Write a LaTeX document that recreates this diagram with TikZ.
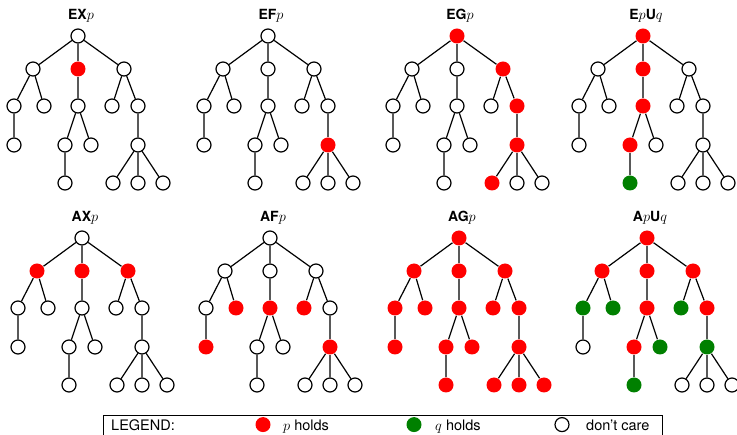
\documentclass[tikz,border=0pt]{standalone}
\usepackage{fontspec}
\setmainfont{TeX Gyre Heros}
\usetikzlibrary{positioning,calc}

\definecolor{pcol}{RGB}{255,0,0}
\definecolor{qcol}{RGB}{0,128,0}

% default look of every tree node (overridden per scope)
\tikzset{
  n-r/.style={}, n-a/.style={}, n-b/.style={}, n-c/.style={},
  n-a1/.style={}, n-a2/.style={}, n-b1/.style={}, n-c1/.style={}, n-c2/.style={},
  n-a11/.style={}, n-b11/.style={}, n-b12/.style={}, n-c21/.style={},
  n-b111/.style={}, n-c211/.style={}, n-c212/.style={}, n-c213/.style={}
}

% one computation tree: #1 = name prefix, #2 = root position, #3 = title
\newcommand{\ctltree}[3]{%
  \node[tnode, n-r] (#1r) at (#2) {};
  \node[tnode, n-a, below left=33pt and 45pt of #1r] (#1a) {};
  \node[tnode, n-b, below=33pt of #1r] (#1b) {};
  \node[tnode, n-c, below right=33pt and 46pt of #1r] (#1c) {};
  \node[tnode, n-a1, below left=37pt and 19pt of #1a] (#1a1) {};
  \node[tnode, n-a2, below right=37pt and 11pt of #1a] (#1a2) {};
  \node[tnode, n-b1, below=37pt of #1b] (#1b1) {};
  \node[tnode, n-c1, below left=37pt and 12pt of #1c] (#1c1) {};
  \node[tnode, n-c2, below right=37pt and 14pt of #1c] (#1c2) {};
  \node[tnode, n-a11, below=39pt of #1a1] (#1a11) {};
  \node[tnode, n-b11, below left=39pt and 13pt of #1b1] (#1b11) {};
  \node[tnode, n-b12, below right=39pt and 13pt of #1b1] (#1b12) {};
  \node[tnode, n-c21, below=39pt of #1c2] (#1c21) {};
  \node[tnode, n-b111, below=38pt of #1b11] (#1b111) {};
  \node[tnode, n-c211, below left=38pt and 25pt of #1c21] (#1c211) {};
  \node[tnode, n-c212, below=38pt of #1c21] (#1c212) {};
  \node[tnode, n-c213, below right=38pt and 25pt of #1c21] (#1c213) {};
  \draw[edge] (#1r) -- (#1a) (#1r) -- (#1b) (#1r) -- (#1c)
    (#1a) -- (#1a1) (#1a) -- (#1a2) (#1a1) -- (#1a11)
    (#1b) -- (#1b1) (#1b1) -- (#1b11) (#1b1) -- (#1b12) (#1b11) -- (#1b111)
    (#1c) -- (#1c1) (#1c) -- (#1c2) (#1c2) -- (#1c21)
    (#1c21) -- (#1c211) (#1c21) -- (#1c212) (#1c21) -- (#1c213);
  \node[title] (#1t) at ($(#1r)+(3pt,16pt)$) {#3};
}

\begin{document}
\begin{tikzpicture}[
  x=1pt, y=1pt,
  on grid,
  tnode/.style = {
    circle, draw, fill=white,
    line width=1.2pt,
    minimum size=14pt, inner sep=0pt
  },
  phold/.style = {fill=pcol, draw=none, minimum size=15pt},
  qhold/.style = {fill=qcol, draw=none, minimum size=15pt},
  edge/.style  = {line width=1.2pt},
  title/.style = {anchor=base, inner sep=0pt, font=\fontsize{14}{16}\selectfont},
  lgtext/.style = {anchor=base west, inner sep=0pt, font=\fontsize{14.5}{17}\selectfont}
]
\useasboundingbox (0,0) rectangle (737,-435);

% ---- existential trees ----
\begin{scope}[n-b/.style=phold]
  \ctltree{ex}{78,-36}{\textbf{EX}$p$}
\end{scope}
\begin{scope}[n-c21/.style=phold]
  \ctltree{ef}{268,-36}{\textbf{EF}$p$}
\end{scope}
\begin{scope}[n-r/.style=phold, n-c/.style=phold, n-c2/.style=phold,
              n-c21/.style=phold, n-c211/.style=phold]
  \ctltree{eg}{457,-36}{\textbf{EG}$p$}
\end{scope}
\begin{scope}[n-r/.style=phold, n-b/.style=phold, n-b1/.style=phold,
              n-b11/.style=phold, n-b111/.style=qhold]
  \ctltree{eu}{643,-36}{\textbf{E}$p$\textbf{U}$q$}
\end{scope}

% ---- universal trees ----
\begin{scope}[n-a/.style=phold, n-b/.style=phold, n-c/.style=phold]
  \ctltree{ax}{82,-238}{\textbf{AX}$p$}
\end{scope}
\begin{scope}[n-a2/.style=phold, n-b1/.style=phold, n-c1/.style=phold,
              n-a11/.style=phold, n-c21/.style=phold]
  \ctltree{af}{270,-238}{\textbf{AF}$p$}
\end{scope}
\begin{scope}[tnode/.append style=phold]
  \ctltree{ag}{459,-238}{\textbf{AG}$p$}
\end{scope}
\begin{scope}[n-r/.style=phold, n-a/.style=phold, n-b/.style=phold,
              n-c/.style=phold, n-b1/.style=phold, n-c2/.style=phold,
              n-b11/.style=phold,
              n-a1/.style=qhold, n-a2/.style=qhold, n-c1/.style=qhold,
              n-b12/.style=qhold, n-c21/.style=qhold, n-b111/.style=qhold]
  \ctltree{au}{647,-238}{\textbf{A}$p$\textbf{U}$q$}
\end{scope}

% ---- legend ----
\node[draw, line width=1.2pt, inner sep=0pt, anchor=north west,
      minimum width=559pt, minimum height=22pt] (legend) at (103,-415) {};
\node[lgtext] (lgd) at ($(legend.west)+(8pt,-4pt)$) {LEGEND:};
\node[tnode, phold] (lgp) at ($(legend.west)+(160pt,2pt)$) {};
\node[lgtext] (lgpt) at ($(legend.west)+(180pt,-4pt)$) {$p$ holds};
\node[tnode, qhold] (lgq) at ($(legend.west)+(311pt,2pt)$) {};
\node[lgtext] (lgqt) at ($(legend.west)+(332pt,-4pt)$) {$q$ holds};
\node[tnode] (lgdc) at ($(legend.west)+(459pt,2pt)$) {};
\node[lgtext] (lgdct) at ($(legend.west)+(483pt,-4pt)$) {don't care};

\end{tikzpicture}
\end{document}
